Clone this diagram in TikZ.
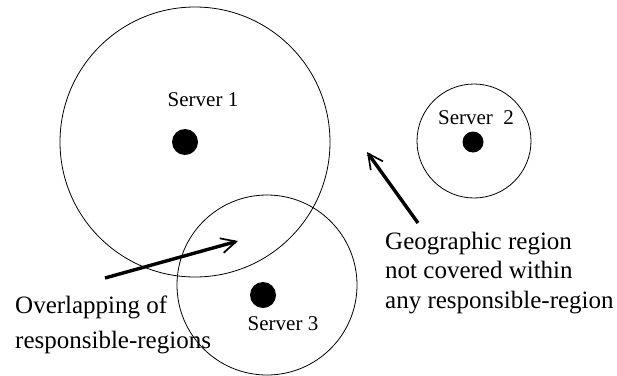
\documentclass[tikz,border=0pt]{standalone}
\usepackage{fontspec}
\setmainfont{Liberation Serif}
\usetikzlibrary{arrows.meta}
\begin{document}
\begin{tikzpicture}[x=1pt,y=-1pt,
  region/.style={circle,draw,line width=0.8pt,inner sep=0pt},
  srv/.style={circle,fill=black,inner sep=0pt},
  srvlabel/.style={font=\fontsize{21}{25}\selectfont,anchor=base,inner sep=0pt},
  note/.style={align=left,anchor=base west,inner sep=0pt},
  pointer/.style={line width=3.4pt,-{Straight Barb[length=15pt,width=15pt,line width=1.7pt]}}]
\useasboundingbox (0,0) rectangle (617,375);
% regions
\node[region,minimum size=270pt] (c1) at (195,142) {};
\node[region,minimum size=114pt] (c2) at (474,141) {};
\node[region,minimum size=180pt] (c3) at (267,285) {};
% servers
\node[srv,minimum size=26pt] (s1) at (185,142) {};
\node[srv,minimum size=21pt] (s2) at (473,142) {};
\node[srv,minimum size=26pt] (s3) at (263,295) {};
% labels
\node[srvlabel] (l1) at (203,106) {Server 1};
\node[srvlabel] (l2) at (476,124) {Server\ \ 2};
\node[srvlabel] (l3) at (283,330) {Server 3};
% notes (base anchor = baseline of the last line)
\node[note,font=\fontsize{25}{35}\selectfont] (ov) at (15,348) {Overlapping of\\responsible-regions};
\node[note,font=\fontsize{25}{29.5}\selectfont] (geo) at (385,308) {Geographic region\\not covered within\\any responsible-region};
% arrows
\coordinate (a1s) at (105,278);
\coordinate (a1e) at (238,241);
\coordinate (a2s) at (418,223);
\coordinate (a2e) at (367,152);
\draw[pointer] (a1s) -- (a1e);
\draw[pointer] (a2s) -- (a2e);
\end{tikzpicture}
\end{document}
